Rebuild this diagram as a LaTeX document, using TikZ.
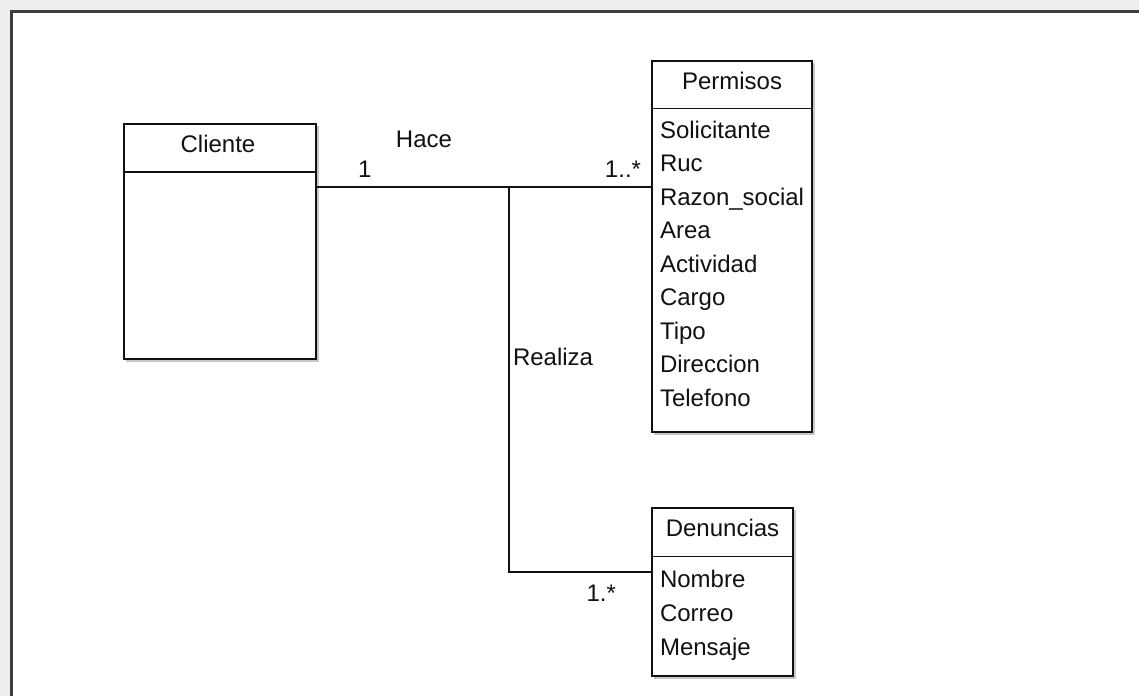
\documentclass[tikz,border=0pt]{standalone}
\usepackage{fontspec}
\setmainfont{Liberation Sans}
\usetikzlibrary{calc}
\definecolor{pagegray}{HTML}{EEEEEE}
\definecolor{framegray}{HTML}{3F3F3F}
\definecolor{shadowgray}{HTML}{C8C8C8}
\definecolor{inkblack}{HTML}{111111}
\tikzset{
  umlbox/.style={draw=inkblack, line width=1.6pt, fill=white, inner sep=0pt, outer sep=0pt, anchor=north west},
  umlline/.style={draw=inkblack, line width=1.5pt},
  lbl/.style={inner sep=0pt, outer sep=0pt, text=inkblack, font=\fontsize{24}{28}\selectfont},
  attr/.style={lbl, anchor=base west},
  title/.style={lbl, anchor=base},
}
\begin{document}
\begin{tikzpicture}[x=1pt, y=-1pt]
  % canvas and frame
  \useasboundingbox (0,0) rectangle (1139,696);
  \fill[pagegray] (0,0) rectangle (1139,696);
  \fill[white] (12,12) rectangle (1139,696);
  \draw[framegray, line width=3pt] (11.5,696) -- (11.5,11.5) -- (1139,11.5);

  % soft shadows under the class boxes
  \fill[shadowgray] (126,126) rectangle (318.5,361.5);
  \fill[shadowgray] (654,63) rectangle (814.5,434.5);
  \fill[shadowgray] (654,510) rectangle (795.5,678.5);

  % class boxes
  \node[umlbox, minimum width=192pt, minimum height=235pt] (cli) at (124,124) {};
  \node[umlbox, minimum width=160pt, minimum height=371pt] (perm) at (652,61) {};
  \node[umlbox, minimum width=141pt, minimum height=168pt] (den) at (652,508) {};

  % compartment dividers
  \draw[umlline] ($(cli.north west)+(0,48)$) -- ($(cli.north east)+(0,48)$);
  \draw[umlline] ($(perm.north west)+(0,47.5)$) -- ($(perm.north east)+(0,47.5)$);
  \draw[umlline] ($(den.north west)+(0,48.5)$) -- ($(den.north east)+(0,48.5)$);

  % class names
  \node[title] (clit) at (218,152) {Cliente};
  \node[title] (permt) at (732,89) {Permisos};
  \node[title] (dent) at (722.5,536) {Denuncias};

  % Permisos attributes
  \node[attr] (p1) at (660,138) {Solicitante};
  \node[attr] (p2) at (660,171.5) {Ruc};
  \node[attr] (p3) at (660,205) {Razon\_social};
  \node[attr] (p4) at (660,238.5) {Area};
  \node[attr] (p5) at (660,272) {Actividad};
  \node[attr] (p6) at (660,305.5) {Cargo};
  \node[attr] (p7) at (660,339) {Tipo};
  \node[attr] (p8) at (660,372.5) {Direccion};
  \node[attr] (p9) at (660,406) {Telefono};

  % Denuncias attributes
  \node[attr] (d1) at (660,587) {Nombre};
  \node[attr] (d2) at (660,621) {Correo};
  \node[attr] (d3) at (660,655) {Mensaje};

  % associations
  \coordinate (junc) at (509,187);
  \coordinate (bend) at (509,572);
  \draw[umlline] (junc -| cli.east) -- (junc -| perm.west);
  \draw[umlline] (junc) -- (bend) -- (bend -| den.west);

  % association labels and multiplicities
  \node[title] (hace) at (424,147) {Hace};
  \node[lbl, anchor=base west] (m1) at (358,177) {1};
  \node[lbl, anchor=base east] (m2) at (641,177) {1..*};
  \node[attr] (realiza) at (513,365) {Realiza};
  \node[lbl, anchor=base east] (m3) at (616,601) {1.*};
\end{tikzpicture}
\end{document}
